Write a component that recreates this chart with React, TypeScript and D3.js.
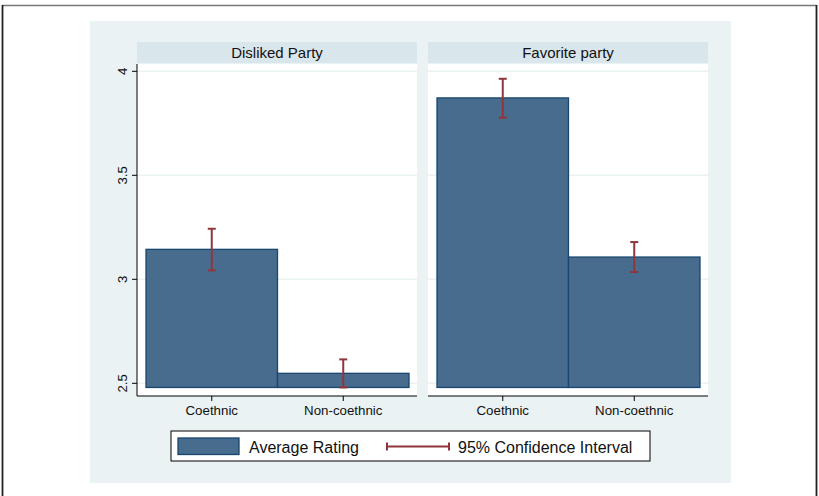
import React from "react";
import * as d3 from "d3";

const panels = ["Disliked Party", "Favorite party"];
const categories = ["Coethnic", "Non-coethnic"];
const meanRatings = [
  [3.144, 2.548],
  [3.872, 3.107],
];
const ciLower = [
  [3.043, 2.48],
  [3.777, 3.035],
];
const ciUpper = [
  [3.243, 2.615],
  [3.964, 3.179],
];
const yTicks = [2.5, 3, 3.5, 4];
const legendLabels = ["Average Rating", "95% Confidence Interval"];

const W = 819;
const H = 496;
const FONT = "'Liberation Sans', Arial, Helvetica, sans-serif";
const BAR_FILL = "#476c8e";
const BAR_STROKE = "#1a476f";
const CI_COLOR = "#90353b";
const BG = "#eaf2f3";
const STRIP = "#d9e6eb";

const panelX = [137, 428];
const panelW = 280;
const plotTop = 63;
const plotBottom = 396;
const baseValue = 2.48;

const y = d3.scaleLinear().domain([2.5, 4]).range([383.3, 71.3]);

export default function App() {
  return (
    <svg
      width={W}
      height={H}
      style={{ position: "absolute", left: 0, top: 0, background: "#fff" }}
      fontFamily={FONT}
    >
      {/* outer frame */}
      <line x1={2} x2={817} y1={5.5} y2={5.5} stroke="#777" strokeWidth={1.5} />
      <line x1={2.5} x2={2.5} y1={5} y2={H} stroke="#222" strokeWidth={1.8} />
      <line x1={816.5} x2={816.5} y1={5} y2={H} stroke="#222" strokeWidth={1.8} />

      {/* graph background */}
      <rect x={90} y={21} width={641} height={462} fill={BG} />

      {panels.map((title, p) => {
        const x0 = panelX[p];
        const x = d3
          .scaleBand<string>()
          .domain(categories)
          .range([x0 + 9, x0 + 272])
          .paddingInner(0)
          .paddingOuter(0);
        return (
          <g key={title}>
            <rect x={x0} y={42} width={panelW} height={21} fill={STRIP} />
            <text
              x={x0 + panelW / 2}
              y={57.5}
              textAnchor="middle"
              fontSize={15}
              fill="#111"
            >
              {title}
            </text>
            <rect x={x0} y={plotTop + 1} width={panelW} height={plotBottom - plotTop - 1} fill="#fff" />
            {yTicks.map((t) => (
              <line
                key={t}
                x1={x0}
                x2={x0 + panelW}
                y1={y(t)}
                y2={y(t)}
                stroke={BG}
                strokeWidth={1.5}
              />
            ))}
            {categories.map((c, i) => (
              <rect
                key={c}
                x={x(c)}
                y={y(meanRatings[p][i])}
                width={x.bandwidth()}
                height={y(baseValue) - y(meanRatings[p][i])}
                fill={BAR_FILL}
                stroke={BAR_STROKE}
                strokeWidth={1.3}
              />
            ))}
            {categories.map((c, i) => {
              const cx = (x(c) as number) + x.bandwidth() / 2;
              return (
                <g key={c} stroke={CI_COLOR} strokeWidth={2}>
                  <line x1={cx} x2={cx} y1={y(ciLower[p][i])} y2={y(ciUpper[p][i])} />
                  <line x1={cx - 4} x2={cx + 4} y1={y(ciLower[p][i])} y2={y(ciLower[p][i])} />
                  <line x1={cx - 4} x2={cx + 4} y1={y(ciUpper[p][i])} y2={y(ciUpper[p][i])} />
                </g>
              );
            })}
            {/* x axis */}
            <line x1={x0} x2={x0 + panelW} y1={plotBottom} y2={plotBottom} stroke="#000" strokeWidth={1} />
            {categories.map((c) => {
              const cx = (x(c) as number) + x.bandwidth() / 2;
              return (
                <g key={c}>
                  <line x1={cx} x2={cx} y1={plotBottom} y2={plotBottom + 5} stroke="#000" />
                  <text x={cx} y={415} textAnchor="middle" fontSize={13.3} fill="#111">
                    {c}
                  </text>
                </g>
              );
            })}
            {/* y axis on the left panel */}
            {p === 0 && (
              <g>
                <line x1={x0} x2={x0} y1={plotTop + 1} y2={plotBottom} stroke="#000" strokeWidth={1} />
                {yTicks.map((t) => (
                  <g key={t}>
                    <line x1={x0 - 5} x2={x0} y1={y(t)} y2={y(t)} stroke="#000" />
                    <text
                      transform={`translate(127,${y(t)}) rotate(-90)`}
                      textAnchor="middle"
                      fontSize={13.3}
                      fill="#111"
                    >
                      {String(t)}
                    </text>
                  </g>
                ))}
              </g>
            )}
          </g>
        );
      })}

      {/* legend */}
      <rect x={171} y={431} width={479} height={30} fill="#fff" stroke="#000" strokeWidth={1} />
      <rect x={178} y={438} width={61} height={16.5} fill={BAR_FILL} stroke={BAR_STROKE} strokeWidth={1.3} />
      <text x={249} y={452.5} fontSize={16} fill="#111">
        {legendLabels[0]}
      </text>
      <g stroke={CI_COLOR} strokeWidth={2}>
        <line x1={387} x2={449} y1={446.5} y2={446.5} />
        <line x1={387} x2={387} y1={442.5} y2={450.5} />
        <line x1={449} x2={449} y1={442.5} y2={450.5} />
      </g>
      <text x={458} y={452.5} fontSize={16} fill="#111">
        {legendLabels[1]}
      </text>
    </svg>
  );
}
